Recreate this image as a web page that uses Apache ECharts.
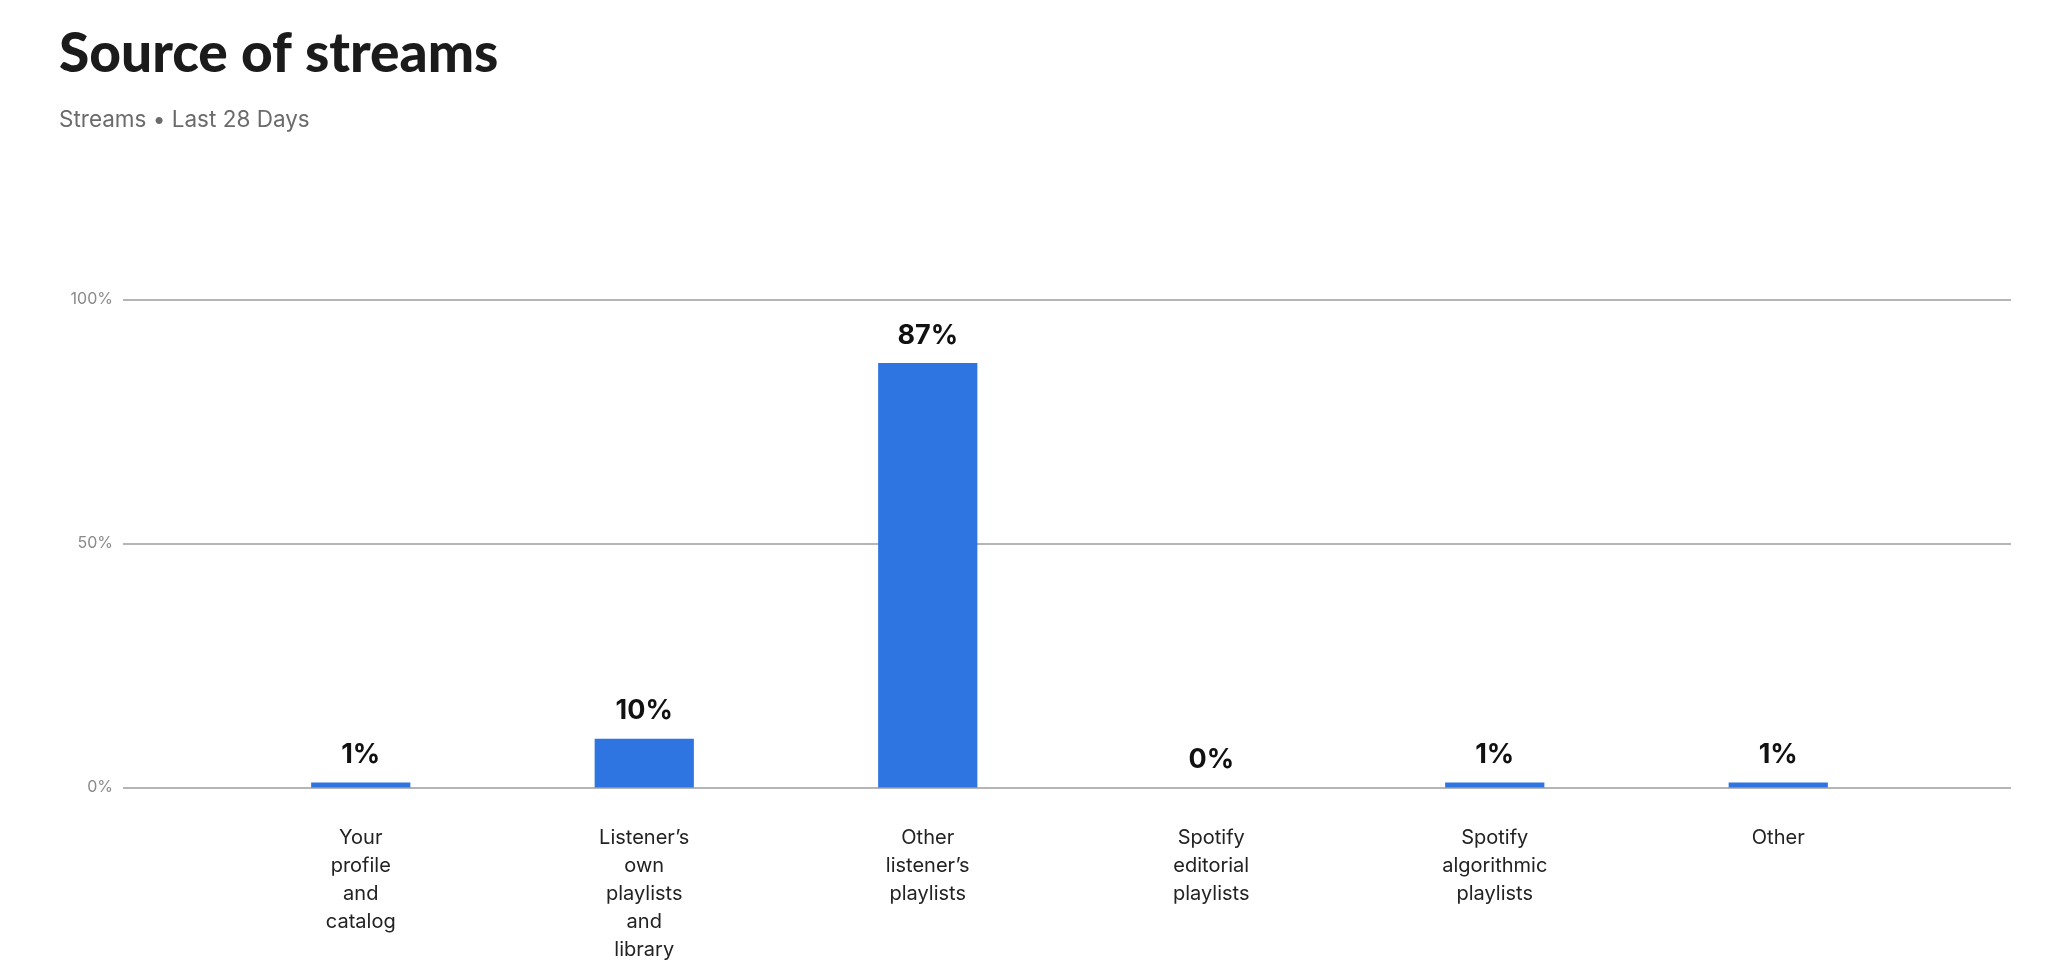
<!DOCTYPE html>
<html>
<head>
<meta charset="utf-8">
<script src="https://cdn.jsdelivr.net/npm/echarts@6/dist/echarts.min.js"></script>
<style>
html,body{margin:0;padding:0;background:#fff;}
#chart{width:2048px;height:970px;}
</style>
</head>
<body>
<div id="chart"></div>
<script>
const categories = [
  "Your\nprofile\nand\ncatalog",
  "Listener’s\nown\nplaylists\nand\nlibrary",
  "Other\nlistener’s\nplaylists",
  "Spotify\neditorial\nplaylists",
  "Spotify\nalgorithmic\nplaylists",
  "Other"
];
const shares = [1, 10, 87, 0, 1, 1];
const yTicks = [0, 50, 100];

const chart = echarts.init(document.getElementById('chart'));
const TOP = 299.5, BOTTOM = 182.5;
chart.setOption({
  animation: false,
  backgroundColor: '#ffffff',
  title: [
    {
      text: 'Source of streams',
      left: 54, top: 22,
      textStyle: {fontFamily: 'Lato', fontWeight: 900, fontSize: 55, color: '#1b1b1b'}
    },
    {
      text: 'Streams • Last 28 Days',
      left: 54, top: 104,
      textStyle: {fontFamily: 'Inter', fontWeight: 400, fontSize: 22.5, color: '#6b6b6b'}
    }
  ],
  grid: [
    {left: 123, right: 37, top: TOP, bottom: BOTTOM},
    {left: 219, right: 128, top: TOP, bottom: BOTTOM}
  ],
  xAxis: [
    {type: 'value', gridIndex: 0, show: false, min: 0, max: 1},
    {
      type: 'category', gridIndex: 1, data: categories,
      axisLine: {show: false}, axisTick: {show: false},
      axisLabel: {
        interval: 0, margin: 36, lineHeight: 28,
        fontFamily: 'Inter', fontSize: 20, color: '#222222', align: 'center'
      }
    }
  ],
  yAxis: [
    {
      type: 'value', gridIndex: 0, min: yTicks[0], max: yTicks[yTicks.length - 1], interval: 50,
      axisLine: {show: false}, axisTick: {show: false},
      axisLabel: {formatter: '{value}%', margin: 10, fontFamily: 'Inter', fontSize: 16, color: '#8a8a8a'},
      splitLine: {lineStyle: {color: '#9c9c9c', width: 1.5}}
    },
    {
      type: 'value', gridIndex: 1, min: 0, max: 100, show: false,
      splitLine: {show: false}
    }
  ],
  series: [{
    type: 'bar', xAxisIndex: 1, yAxisIndex: 1,
    data: shares,
    barWidth: '35%',
    itemStyle: {color: '#2e75e2'},
    label: {
      show: true, position: 'top', distance: 14,
      formatter: '{c}%',
      fontFamily: 'Inter', fontWeight: 700, fontSize: 27, color: '#111111'
    }
  }]
});
</script>
</body>
</html>
